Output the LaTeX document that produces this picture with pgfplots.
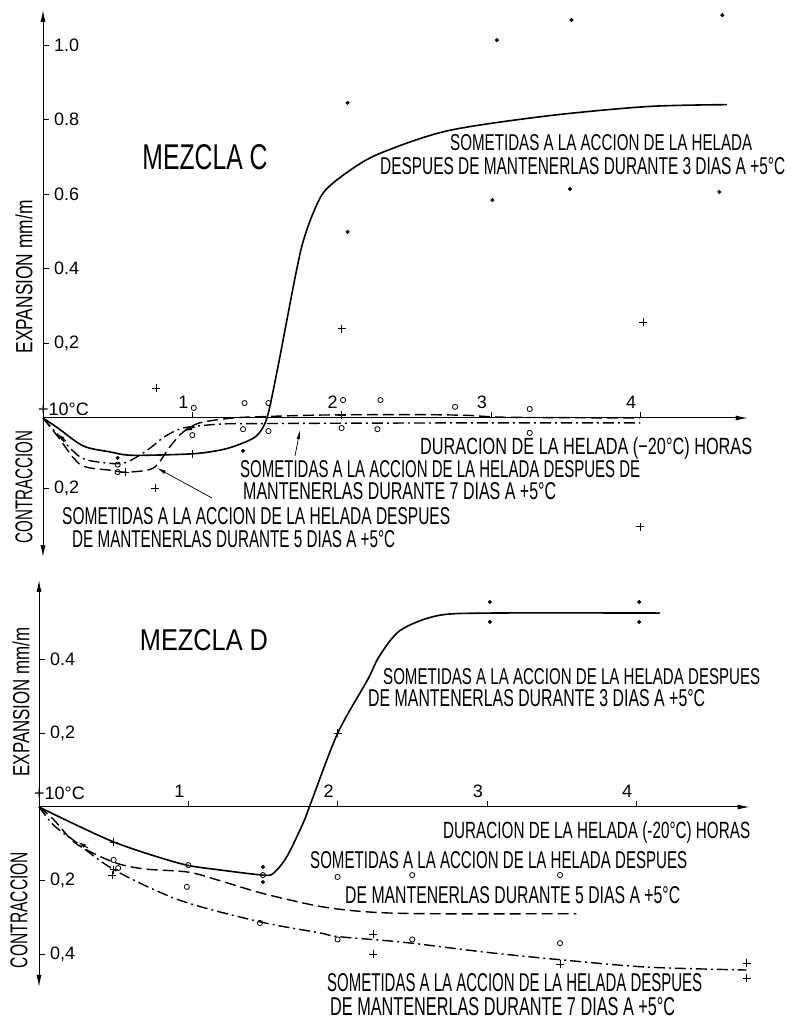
\documentclass[border=0pt]{standalone}
\usepackage{pgfplots}
\pgfplotsset{compat=1.18}
\usetikzlibrary{arrows.meta}
\usepackage{fontspec}
\setmainfont{Liberation Sans}
\usepackage{graphicx}
\newcommand\fit[3]{\resizebox{#1pt}{#2pt}{#3}}

\pgfplotsset{
  panel/.style={axis lines=middle, clip=false, x=149.3pt, xmin=0,
     axis line style={line width=1pt, black},
     x axis line style={-{Latex[length=12pt,width=5pt]}},
     y axis line style={{Latex[length=12pt,width=5pt]}-{Latex[length=12pt,width=5pt]}},
     xtick={1,2,3,4}, xticklabels={1,2,3,4},
     tick align=inside, major tick length=6pt, tick style={black, line width=0.8pt},
     xticklabel style={anchor=south, inner sep=0pt, xshift=-9pt, yshift=9pt, font=\fontsize{18}{18}\selectfont},
     yticklabel style={anchor=west, inner sep=0pt, xshift=11pt, font=\fontsize{18}{18}\selectfont},
     /pgf/number format/assume math mode=true,
  },
  dotm/.style={only marks, mark=*, mark size=1.8pt, black},
  circm/.style={only marks, mark=o, mark size=2.6pt, mark options={line width=0.8pt}, black},
  plusm/.style={only marks, mark=+, mark size=4pt, mark options={line width=0.9pt}, black},
  cur/.style={smooth, tension=0.5, no marks, black, line width=1.6pt},
  dashfive/.style={cur, line width=1.4pt, dash pattern=on 11pt off 5pt},
  dashseven/.style={cur, line width=1.4pt, dash pattern=on 11pt off 4pt on 2pt off 4pt},
}

\begin{document}
\begin{tikzpicture}
\useasboundingbox (0pt,0pt) rectangle (796pt,1021pt);

% ---------------- MEZCLA C ----------------
\begin{axis}[panel, at={(43pt,603pt)}, anchor=origin, y=373pt,
  xmax=4.72, ymin=-0.373, ymax=1.094,
  ytick={-0.188,0.2,0.4,0.6,0.8,1.0},
  yticklabels={{0,2},{0,2},0.4,0.6,0.8,1.0}]
% 3 dias
\addplot[cur] coordinates {(0,0)(0.1,-0.027)(0.27,-0.075)(0.45,-0.091)(0.6,-0.1)(1.0,-0.096)(1.2,-0.085)(1.32,-0.07)(1.43,-0.048)(1.5,0)(1.57,0.13)(1.63,0.255)(1.69,0.38)(1.74,0.47)(1.81,0.55)(1.89,0.61)(2.06,0.665)(2.26,0.71)(2.71,0.77)(3.38,0.81)(4.05,0.835)(4.58,0.84)};
% 5 dias
\addplot[dashfive] coordinates {(0,0)(0.1,-0.05)(0.25,-0.125)(0.45,-0.14)(0.56,-0.145)(0.74,-0.134)(0.85,-0.077)(0.94,-0.037)(1.05,-0.013)(1.27,0)(1.5,0.004)(1.88,0.008)(2.5,0.009)(2.85,0.007)(3.1,0.002)(4.0,0.0)};
% 7 dias
\addplot[dashseven] coordinates {(0,0)(0.1,-0.045)(0.25,-0.105)(0.41,-0.12)(0.55,-0.12)(0.7,-0.086)(0.8,-0.054)(0.9,-0.032)(0.98,-0.024)(1.2,-0.016)(1.43,-0.015)(2.0,-0.014)(3.0,-0.013)(4.0,-0.013)};
\addplot[dotm] coordinates {(2.04,0.845)(2.04,0.499)(3.04,1.013)(3.54,1.067)(4.55,1.08)(3.01,0.584)(3.53,0.614)(4.53,0.606)(1.34,-0.088)(0.5,-0.107)};
\addplot[circm] coordinates {(1.01,0.027)(1.35,0.04)(1.51,0.04)(2.01,0.048)(2.26,0.048)(2.76,0.03)(3.26,0.024)(1.0,-0.046)(1.34,-0.03)(1.51,-0.035)(2.0,-0.027)(2.24,-0.03)(3.26,-0.04)(0.5,-0.125)(0.5,-0.145)};
\addplot[plusm] coordinates {(0.76,0.08)(2.0,0.239)(4.02,0.257)(0.75,-0.188)(4.0,-0.292)(0.55,-0.145)(1.0,-0.096)(2.0,0.008)};
\end{axis}

% ---------------- MEZCLA D ----------------
\begin{axis}[panel, at={(39pt,214pt)}, anchor=origin, y=368pt,
  xmax=4.76, ymin=-0.489, ymax=0.617,
  ytick={-0.4,-0.2,0.2,0.4},
  yticklabels={{0,4},{0,2},{0,2},0.4}]
\addplot[cur] coordinates {(0,0)(0.25,-0.049)(0.5,-0.095)(0.75,-0.13)(0.99,-0.158)(1.21,-0.171)(1.5,-0.185)(1.57,-0.18)(1.66,-0.135)(1.77,-0.043)(1.82,0.01)(2.0,0.2)(2.2,0.345)(2.28,0.41)(2.42,0.48)(2.67,0.52)(3.02,0.527)(4.16,0.527)};
\addplot[dashfive] coordinates {(0,0)(0.1,-0.035)(0.25,-0.1)(0.5,-0.15)(0.7,-0.168)(1.0,-0.177)(1.21,-0.2)(1.5,-0.235)(1.88,-0.27)(2.2,-0.285)(2.6,-0.29)(3.6,-0.29)};
\addplot[dashseven] coordinates {(0,0)(0.1,-0.05)(0.23,-0.09)(0.5,-0.17)(0.94,-0.253)(1.48,-0.312)(1.88,-0.342)(2.0,-0.352)(2.45,-0.368)(3.0,-0.395)(3.49,-0.415)(4.07,-0.435)(4.74,-0.443)};
\addplot[dotm] coordinates {(3.02,0.557)(3.02,0.503)(4.02,0.557)(4.02,0.503)(1.5,-0.163)(1.5,-0.204)};
\addplot[circm] coordinates {(1.0,-0.158)(1.5,-0.185)(0.5,-0.144)(0.53,-0.166)(0.99,-0.217)(2.0,-0.19)(2.5,-0.185)(3.49,-0.185)(1.48,-0.315)(2.0,-0.36)(2.5,-0.36)(3.49,-0.37)};
\addplot[plusm] coordinates {(0.5,-0.095)(0.5,-0.171)(0.49,-0.185)(2.24,-0.345)(2.24,-0.40)(3.49,-0.427)(4.74,-0.424)(4.74,-0.465)(2.0,0.2)};
\end{axis}

% ---------- texts, panel C ----------
\node[inner sep=0] at (205pt,864pt) {\fit{125}{25}{MEZCLA C}};
\node[inner sep=0,anchor=west] at (450pt,878pt) {\fit{302}{16}{SOMETIDAS A LA ACCION DE LA HELADA}};
\node[inner sep=0,anchor=west] at (380pt,855pt) {\fit{405}{17}{DESPUES DE MANTENERLAS DURANTE 3 DIAS A +5°C}};
\node[inner sep=0,anchor=west] at (420pt,573pt) {\fit{332}{17}{DURACION DE LA HELADA (−20°C) HORAS}};
\node[inner sep=0,anchor=west] at (240pt,552pt) {\fit{400}{17}{SOMETIDAS A LA ACCION DE LA HELADA DESPUES DE}};
\node[inner sep=0,anchor=west] at (243pt,530pt) {\fit{313}{17}{MANTENERLAS DURANTE 7 DIAS A +5°C}};
\node[inner sep=0,anchor=west] at (62pt,505pt) {\fit{388}{17}{SOMETIDAS A LA ACCION DE LA HELADA DESPUES}};
\node[inner sep=0,anchor=west] at (72pt,482pt) {\fit{323}{17}{DE MANTENERLAS DURANTE 5 DIAS A +5°C}};
\node[inner sep=0,rotate=90] at (24pt,744pt) {\fit{153}{17}{EXPANSION mm/m}};
\node[inner sep=0,rotate=90] at (24pt,534pt) {\fit{113}{17}{CONTRACCION}};
\node[inner sep=0,anchor=west,font=\fontsize{18}{18}\selectfont] at (38pt,612pt) {+10°C};
\draw[line width=0.7pt, -{Latex[length=9pt,width=3.5pt]}] (212pt,523pt) -- (157pt,553pt);
\draw[line width=0.7pt, -{Latex[length=9pt,width=3.5pt]}] (295pt,565pt) -- (300pt,591pt);
% direction arrowheads on the curves
\draw[line width=1pt, -{Latex[length=8pt,width=4pt]}] (66pt,580pt) -- (57pt,587pt);
\draw[line width=1pt, -{Latex[length=8pt,width=4pt]}] (195pt,594pt) -- (184pt,590pt);

% ---------- texts, panel D ----------
\node[inner sep=0] at (204pt,381pt) {\fit{128}{21}{MEZCLA D}};
\node[inner sep=0,anchor=west] at (383pt,344pt) {\fit{377}{16}{SOMETIDAS A LA ACCION DE LA HELADA DESPUES}};
\node[inner sep=0,anchor=west] at (368pt,323pt) {\fit{337}{17}{DE MANTENERLAS DURANTE 3 DIAS A +5°C}};
\node[inner sep=0,anchor=west] at (443pt,189pt) {\fit{307}{17}{DURACION DE LA HELADA (-20°C) HORAS}};
\node[inner sep=0,anchor=west] at (310pt,161pt) {\fit{377}{17}{SOMETIDAS A LA ACCION DE LA HELADA DESPUES}};
\node[inner sep=0,anchor=west] at (345pt,126pt) {\fit{335}{17}{DE MANTENERLAS DURANTE 5 DIAS A +5°C}};
\node[inner sep=0,anchor=west] at (327pt,38pt) {\fit{375}{18}{SOMETIDAS A LA ACCION DE LA HELADA DESPUES}};
\node[inner sep=0,anchor=west] at (330pt,14pt) {\fit{345}{18}{DE MANTENERLAS DURANTE 7 DIAS A +5°C}};
\node[inner sep=0,rotate=90] at (21pt,319pt) {\fit{149}{17}{EXPANSION mm/m}};
\node[inner sep=0,rotate=90] at (19pt,111pt) {\fit{116}{17}{CONTRACCION}};
\node[inner sep=0,anchor=west,font=\fontsize{18}{18}\selectfont] at (34pt,228pt) {+10°C};
\draw[line width=1pt, -{Latex[length=8pt,width=4pt]}] (88pt,173pt) -- (78pt,179pt);
\end{tikzpicture}
\end{document}
